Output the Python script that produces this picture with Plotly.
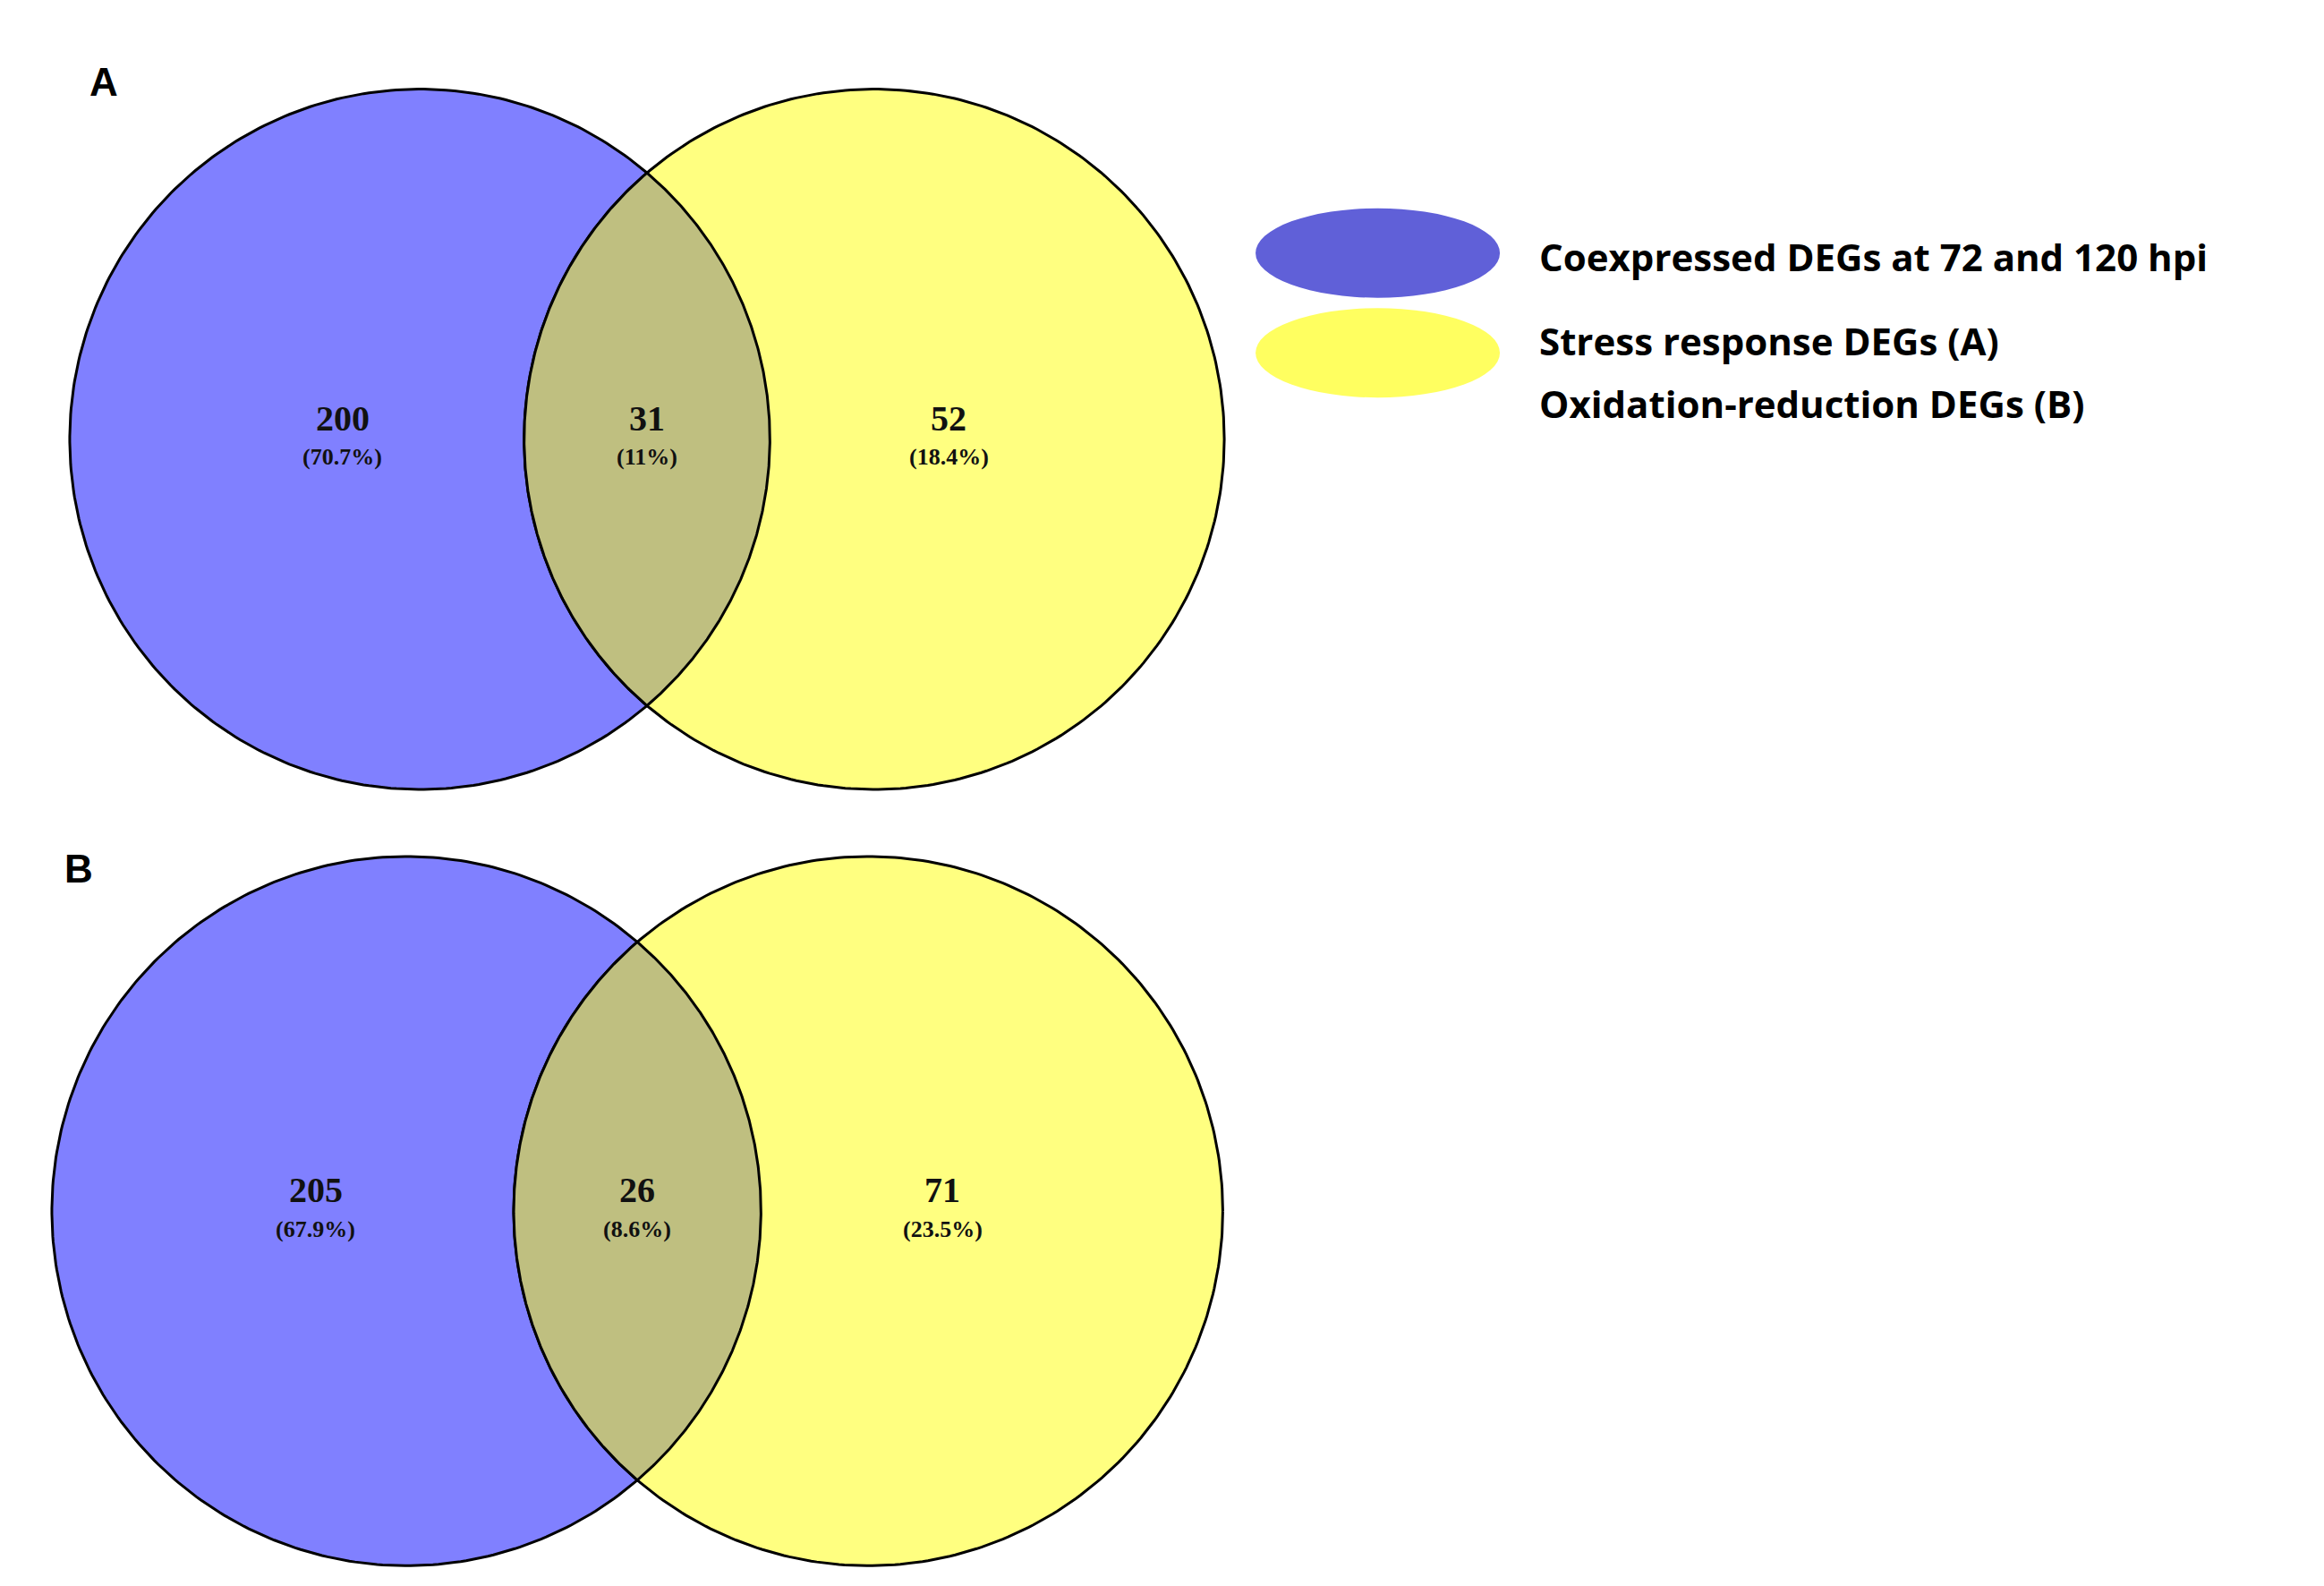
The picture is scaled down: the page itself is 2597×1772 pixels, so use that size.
import numpy as np
import plotly.graph_objects as go

panels = ["A", "B"]
left_only = [200, 205]
both = [31, 26]
right_only = [52, 71]
left_pct = ["70.7%", "67.9%"]
both_pct = ["11%", "8.6%"]
right_pct = ["18.4%", "23.5%"]
legend_labels = ["Coexpressed DEGs at 72 and 120 hpi", "Stress response DEGs (A)", "Oxidation-reduction DEGs (B)"]

S = 2597 / 1560
W, H = 2597, 1772
geo = [dict(lx=277, rx=582, cy=290, r=235, lab=(65, 50)),
       dict(lx=268, rx=578, cy=808, r=238, lab=(48, 578))]

fig = go.Figure()

def circ(cx, cy, r, a0=0, a1=2*np.pi, n=400):
    t = np.linspace(a0, a1, n)
    return cx + r*np.cos(t), cy + r*np.sin(t)

for i, g in enumerate(geo):
    lx, rx, cy, r = g["lx"]*S, g["rx"]*S, g["cy"]*S, g["r"]*S
    x, y = circ(lx, cy, r)
    fig.add_trace(go.Scatter(x=x, y=y, fill="toself", fillcolor="#8080FF", mode="lines",
                             line=dict(color="black", width=3), hoverinfo="skip"))
    x, y = circ(rx, cy, r)
    fig.add_trace(go.Scatter(x=x, y=y, fill="toself", fillcolor="#FFFF80", mode="lines",
                             line=dict(color="black", width=3), hoverinfo="skip"))
    d = (rx - lx) / 2
    a = np.arccos(d / r)
    x1, y1 = circ(lx, cy, r, -a, a)
    x2, y2 = circ(rx, cy, r, np.pi - a, np.pi + a)
    fig.add_trace(go.Scatter(x=np.r_[x1, x2], y=np.r_[y1, y2], fill="toself", fillcolor="#BFBF80",
                             mode="lines", line=dict(color="black", width=3), hoverinfo="skip"))
    mid = (lx + rx) / 2
    for xx, n, p in [((lx - r + mid - d*0 + (rx - r)) / 2 - 0, None, None)]:
        pass
    xs = [(lx - r + rx - r) / 2 + 0, mid, (lx + r + rx + r) / 2]
    xs = [(g["lx"] - 52 + (i * -9))*S, mid, (g["rx"] + 50)*S]
    for xx, n, p in zip(xs, [left_only[i], both[i], right_only[i]],
                        [left_pct[i], both_pct[i], right_pct[i]]):
        fig.add_annotation(x=xx, y=cy - 14*S, text=f"<b>{n}</b>", showarrow=False,
                           font=dict(family="Liberation Serif", size=40, color="#111"))
        fig.add_annotation(x=xx, y=cy + 12*S, text=f"<b>({p})</b>", showarrow=False,
                           font=dict(family="Liberation Serif", size=26, color="#111"))
    fig.add_annotation(x=g["lab"][0]*S, y=g["lab"][1]*S, text=f"<b>{panels[i]}</b>", showarrow=False,
                       font=dict(family="Liberation Sans", size=44, color="black"))

for cyl, col in [(165, "#6060D8"), (232, "#FFFF60")]:
    fig.add_shape(type="circle", x0=838*S, x1=1002*S, y0=(cyl-30)*S, y1=(cyl+30)*S,
                  fillcolor=col, line=dict(width=0), layer="above")
for t, yy in zip(legend_labels, [167, 224, 266]):
    fig.add_annotation(x=1027*S, y=yy*S, text=f"<b>{t}</b>", showarrow=False, xanchor="left",
                       font=dict(family="Open Sans", size=42, color="black"))

fig.update_layout(width=W, height=H, margin=dict(l=0, r=0, t=0, b=0), showlegend=False,
                  plot_bgcolor="white", paper_bgcolor="white",
                  xaxis=dict(range=[0, W], visible=False),
                  yaxis=dict(range=[H, 0], visible=False, scaleanchor="x"))
fig.write_html("out.html")
